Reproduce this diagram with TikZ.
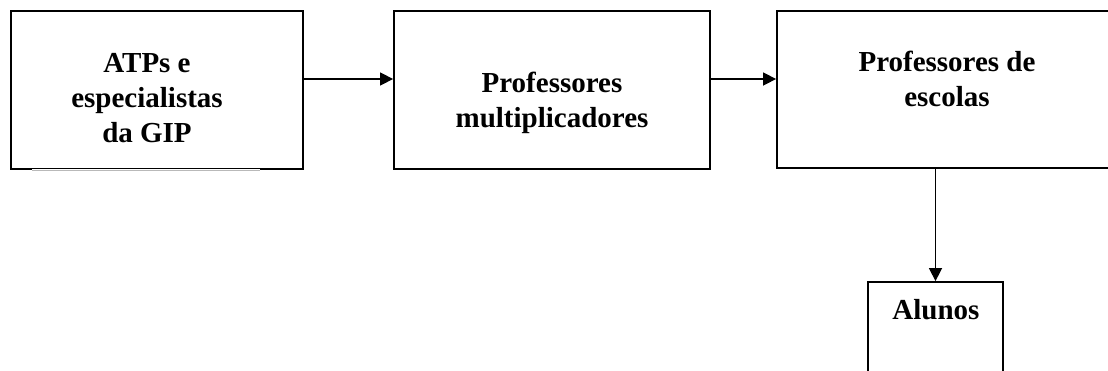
\documentclass[tikz,border=0pt]{standalone}
\usepackage{fontspec}
\setmainfont{Liberation Serif}
\usetikzlibrary{arrows.meta}
\tikzset{%
	caixa/.style={
		draw,
		line width=1.8pt,
		minimum width=#1,
		inner sep=0pt
	},
	rotulo/.style={
		anchor=north,
		inner sep=0pt,
		align=center,
		font=\fontsize{29pt}{35pt}\selectfont\bfseries
	},
	seta/.style={
		line width=1.5pt,
		-{Triangle[length=13pt,width=13pt]}
	},
}
\begin{document}
\begin{tikzpicture}[x=1pt,y=-1pt]
			
			% Page frame
			\useasboundingbox (0,0) rectangle (1108,370);
			\clip (0,0) rectangle (1108,370);
			
			% Boxes
			\node[caixa=292pt, minimum height=158pt] (atp) at (157,90) {};
			\node[caixa=316pt, minimum height=158pt] (mult) at (552,90) {};
			\node[caixa=340pt, minimum height=157pt] (esc) at (947,89.5) {};
			\node[caixa=135pt, minimum height=118pt] (alunos) at (935.5,341) {};
			
			% Bottom of first box is only partly drawn
			\draw[white, line width=2.8pt] ([xshift=22pt]atp.south west) -- ([xshift=-44pt]atp.south east);
			\draw[gray!55, line width=0.8pt] ([xshift=22pt]atp.south west) -- ([xshift=-44pt]atp.south east);
			
			% Texts
			\node[rotulo] (atptxt) at (147,53) {ATPs e\\especialistas\\da GIP};
			\node[rotulo] (multtxt) at (552,72) {Professores\\multiplicadores};
			\node[rotulo] (esctxt) at (947,51) {Professores de\\escolas};
			\node[rotulo] (alunostxt) at (936,299) {Alunos};
			
			% Arrows
			\draw[seta] (atp.east |- 0,79) -- (mult.west |- 0,79);
			\draw[seta] (mult.east |- 0,79) -- (esc.west |- 0,79);
			\draw[seta] (alunos.north |- esc.south) -- (alunos.north);
			
		\end{tikzpicture}
\end{document}
